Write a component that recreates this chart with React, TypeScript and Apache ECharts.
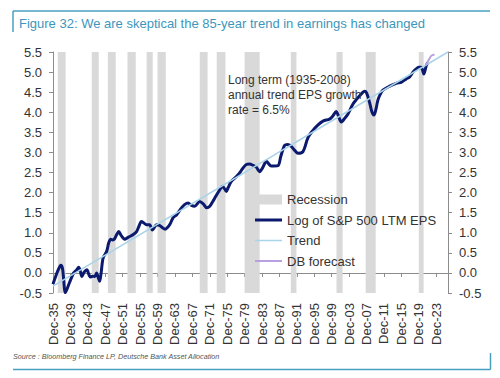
import React, { useEffect, useRef } from 'react';
import * as echarts from 'echarts';

// x values are years after Dec-1935
const X_MAX = 90.7;
const Y_MIN = -0.5;
const Y_MAX = 5.5;

const recessions: [number, number][] = [
  [1.1, 2.9], [8.9, 10.5], [12.6, 14.4], [17.1, 19.0], [21.5, 22.9], [24.0, 25.9],
  [33.7, 35.5], [37.6, 39.6], [44.0, 47.45], [54.6, 55.9], [65.1, 66.5], [71.8, 74.1], [84.0, 85.1],
];

const eps: [number, number][] = [
  [0, -0.28], [0.4, -0.15], [1.1, 0.05], [1.8, 0.19], [2.2, 0.1], [2.85, -0.49], [3.4, -0.35],
  [4.2, -0.13], [4.75, 0.0], [5.4, 0.07], [5.9, 0.14], [6.25, 0.05], [6.65, -0.09], [7.15, 0.02],
  [7.8, 0.08], [8.2, -0.03], [8.6, -0.1], [9.1, -0.08], [9.6, -0.09], [10.0, 0.0], [10.4, -0.12],
  [10.7, -0.21], [11.05, 0.0], [11.5, 0.37], [12.3, 0.53], [12.8, 0.75], [13.25, 0.84], [13.7, 0.82],
  [14.15, 0.85], [14.6, 0.95], [15.1, 1.03], [15.55, 0.95], [16.0, 0.88], [16.45, 0.84], [17.15, 0.88],
  [17.85, 0.92], [18.35, 0.95], [19.15, 1.02], [19.7, 1.15], [20.3, 1.28], [20.8, 1.25], [21.45, 1.2],
  [22.2, 1.2], [22.8, 1.07], [23.2, 1.12], [23.75, 1.2], [24.5, 1.18], [25.2, 1.12], [25.75, 1.09],
  [26.8, 1.2], [27.55, 1.37], [28.4, 1.45], [29.5, 1.62], [30.2, 1.7], [31.0, 1.74], [31.8, 1.68],
  [32.5, 1.66], [33.7, 1.78], [34.5, 1.72], [35.3, 1.62], [36.0, 1.66], [36.7, 1.78], [37.35, 1.9],
  [38.3, 2.07], [38.95, 2.16], [39.8, 2.03], [40.2, 2.12], [40.95, 2.28], [41.95, 2.38], [42.85, 2.49],
  [43.55, 2.6], [44.4, 2.7], [45.15, 2.71], [45.9, 2.68], [46.7, 2.63], [47.45, 2.52], [48.15, 2.62],
  [49.0, 2.78], [49.5, 2.72], [50.1, 2.66], [51.65, 2.67], [52.3, 2.9], [53.2, 3.18], [53.9, 3.2],
  [54.7, 3.15], [55.5, 3.05], [56.25, 2.98], [57.4, 3.02], [58.55, 3.37], [59.7, 3.55], [60.8, 3.68],
  [62.0, 3.78], [63.5, 3.83], [64.2, 3.9], [65.05, 4.02], [65.5, 3.92], [66.2, 3.76], [67.0, 3.85],
  [67.7, 3.95], [68.85, 4.2], [69.7, 4.32], [70.4, 4.41], [71.55, 4.52], [72.0, 4.48], [72.7, 4.24],
  [73.2, 4.02], [73.7, 3.93], [74.1, 4.05], [74.6, 4.3], [75.1, 4.44], [75.75, 4.55], [77.3, 4.65],
  [78.8, 4.72], [80.05, 4.75], [81.1, 4.83], [81.9, 4.88], [82.65, 5.0], [83.4, 5.08], [83.95, 5.12],
  [84.55, 5.12], [84.85, 5.05], [85.15, 4.95], [85.45, 5.05], [85.7, 5.16], [86.1, 5.24],
];

const trend: [number, number][] = [[0, -0.33], [90.7, 5.5]];

const forecast: [number, number][] = [[85.7, 5.18], [86.25, 5.3], [86.9, 5.41], [87.6, 5.44]];

const FONT = 'Liberation Sans, Arial, sans-serif';
const TEAL = '#3d96bb';
const TEXT = '#333333';
const AXIS = '#8c8c8c';
const NAVY = '#0b1a6e';
const LIGHTBLUE = '#a9d3e8';
const LAVENDER = '#b9a0e0';

function fmtYear(v: number): string {
  const yr = (35 + Math.round(v)) % 100;
  return 'Dec-' + String(yr).padStart(2, '0');
}

export default function App() {
  const ref = useRef<HTMLDivElement>(null);
  useEffect(() => {
    document.body.style.margin = '0';
    if (!ref.current) return;
    const chart = echarts.init(ref.current, undefined, { renderer: 'svg' });
    const yAxisCommon = {
      type: 'value' as const,
      min: Y_MIN,
      max: Y_MAX,
      interval: 0.5,
      splitLine: { show: false },
      axisLine: { show: true, onZero: false, lineStyle: { color: AXIS, width: 1 } },
      axisTick: { show: true, length: 4, lineStyle: { color: AXIS } },
      axisLabel: {
        color: TEXT,
        fontSize: 13,
        fontFamily: FONT,
        margin: 11,
        formatter: (v: number) => v.toFixed(1),
      },
    };
    chart.setOption({
      animation: false,
      grid: { left: 53, right: 52, top: 52, height: 241, containLabel: false },
      xAxis: [
        {
          type: 'value',
          min: 0,
          max: X_MAX,
          interval: 4,
          position: 'bottom',
          splitLine: { show: false },
          axisLine: { show: false, onZero: false },
          axisTick: { show: false },
          axisLabel: {
            rotate: 90,
            margin: 10,
            color: TEXT,
            fontSize: 13,
            fontFamily: FONT,
            showMaxLabel: false,
            formatter: fmtYear,
          },
        },
        {
          type: 'value',
          min: 0,
          max: X_MAX,
          interval: 4,
          position: 'top',
          splitLine: { show: false },
          axisLine: { show: true, onZero: true, onZeroAxisIndex: 0, lineStyle: { color: AXIS, width: 1 } },
          axisTick: { show: true, inside: true, length: 4, lineStyle: { color: AXIS } },
          axisLabel: { show: false },
        },
      ],
      yAxis: [
        { ...yAxisCommon, position: 'left' },
        { ...yAxisCommon, position: 'right' },
      ],
      legend: {
        orient: 'vertical',
        left: 250,
        top: 188,
        itemWidth: 27,
        itemHeight: 10,
        itemGap: 7.5,
        textStyle: { color: TEXT, fontSize: 13, fontFamily: FONT },
        data: [
          { name: 'Recession', icon: 'rect' },
          { name: 'Log of S&P 500 LTM EPS', icon: 'path://M0,0H27V3H0Z' },
          { name: 'Trend', icon: 'path://M0,0H27V1.5H0Z' },
          { name: 'DB forecast', icon: 'path://M0,0H27V2H0Z' },
        ],
      },
      graphic: [
        {
          type: 'line',
          z: 100,
          shape: { x1: 13, y1: 11, x2: 490, y2: 11 },
          style: { stroke: '#4aa0c2', lineWidth: 1.5 },
        },
        {
          type: 'line',
          z: 100,
          shape: { x1: 13, y1: 11, x2: 13, y2: 32 },
          style: { stroke: '#4aa0c2', lineWidth: 1.5 },
        },
        {
          type: 'text',
          z: 100,
          left: 19,
          top: 17,
          style: { text: 'Figure 32: We are skeptical the 85-year trend in earnings has changed', fill: TEAL, fontSize: 13, fontFamily: FONT },
        },
        {
          type: 'text',
          z: 100,
          left: 228,
          top: 72,
          style: {
            text: 'Long term (1935-2008)\nannual trend EPS growth\nrate = 6.5%',
            fill: TEXT,
            fontSize: 12,
            lineHeight: 15,
            fontFamily: FONT,
          },
        },
        {
          type: 'text',
          z: 100,
          left: 13,
          top: 353,
          style: {
            text: 'Source : Bloomberg Finance LP, Deutsche Bank Asset Allocation',
            fill: '#555555',
            fontSize: 7.2,
            fontStyle: 'italic',
            fontFamily: FONT,
          },
        },
        {
          type: 'line',
          z: 100,
          shape: { x1: 13, y1: 369.5, x2: 490.5, y2: 369.5 },
          style: { stroke: '#4aa0c2', lineWidth: 1.5 },
        },
        {
          type: 'line',
          z: 100,
          shape: { x1: 490.5, y1: 353, x2: 490.5, y2: 369.5 },
          style: { stroke: '#4aa0c2', lineWidth: 1.5 },
        },
      ],
      series: [
        {
          name: 'Recession',
          type: 'custom',
          xAxisIndex: 0,
          yAxisIndex: 0,
          itemStyle: { color: '#d9d9d9' },
          encode: { x: [0, 1] },
          z: 1,
          renderItem: (params: any, api: any) => {
            const s = api.coord([api.value(0), Y_MAX]);
            const e = api.coord([api.value(1), Y_MIN]);
            return {
              type: 'rect',
              shape: { x: s[0], y: s[1], width: e[0] - s[0], height: e[1] - s[1] },
              style: { fill: '#d9d9d9' },
            };
          },
          data: recessions,
        },
        {
          name: 'Log of S&P 500 LTM EPS',
          type: 'line',
          xAxisIndex: 0,
          yAxisIndex: 0,
          symbol: 'none',
          smooth: 0.3,
          lineStyle: { color: NAVY, width: 3 },
          itemStyle: { color: NAVY },
          z: 3,
          data: eps,
        },
        {
          name: 'Trend',
          type: 'line',
          xAxisIndex: 0,
          yAxisIndex: 0,
          symbol: 'none',
          lineStyle: { color: LIGHTBLUE, width: 1.5 },
          itemStyle: { color: LIGHTBLUE },
          z: 4,
          data: trend,
        },
        {
          name: 'DB forecast',
          type: 'line',
          xAxisIndex: 0,
          yAxisIndex: 0,
          symbol: 'none',
          smooth: 0.3,
          lineStyle: { color: LAVENDER, width: 2 },
          itemStyle: { color: LAVENDER },
          z: 5,
          data: forecast,
        },
      ],
    });
    return () => chart.dispose();
  }, []);
  return <div ref={ref} style={{ position: 'absolute', left: 0, top: 0, width: 500, height: 378 }} />;
}
